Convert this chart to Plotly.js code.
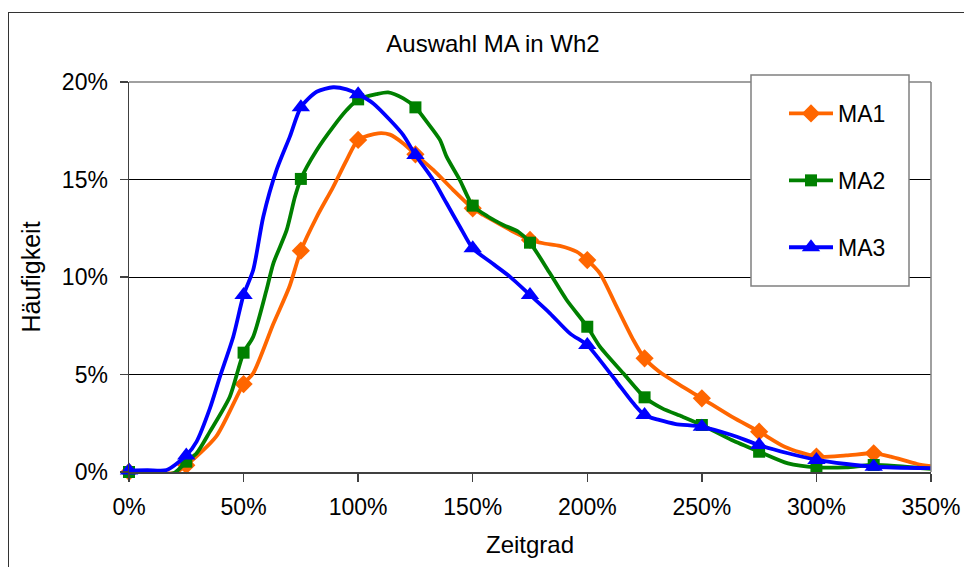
<!DOCTYPE html>
<html>
<head>
<meta charset="utf-8">
<script src="https://cdn.plot.ly/plotly-3.0.1.min.js"></script>
<style>
  html, body { margin: 0; padding: 0; background: #ffffff; }
  #wrap { position: relative; width: 964px; height: 567px; overflow: hidden; }
  #chart { position: absolute; left: 0; top: 0; width: 964px; height: 567px; }
  #frame { position: absolute; left: 8px; top: 12px; width: 1000px; height: 600px;
           border: 1px solid #333333; pointer-events: none; }
</style>
</head>
<body>
<div id="wrap">
  <div id="chart"></div>
  <div id="frame"></div>
</div>
<script>
// Data (x = Zeitgrad in %, y = Häufigkeit in %)
const seriesNames = ["MA1", "MA2", "MA3"];
const xTicks = [0, 50, 100, 150, 200, 250, 300, 350];
const yTicks = [0, 5, 10, 15, 20];

const xMA1 = [0, 8, 15, 20, 25, 38, 50, 54.2, 63, 70, 75, 82, 89, 95, 100, 108.8, 113.9, 119.7, 125, 132.8, 141.5, 150, 154.6, 161.9, 170.6, 175, 180.8, 188, 195.3, 200, 205.5, 212.8, 220.1, 225, 231.3, 241.5, 250, 263, 275, 286.1, 300, 313, 325, 332.4, 344, 352];
const yMA1 = [0, -0.05, -0.07, -0.05, 0.35, 1.81, 4.51, 5.06, 7.6, 9.5, 11.35, 13.1, 14.6, 16.0, 17.03, 17.37, 17.3, 16.85, 16.29, 15.49, 14.46, 13.52, 13.18, 12.7, 12.15, 11.9, 11.73, 11.6, 11.3, 10.87, 10.19, 8.48, 6.77, 5.83, 5.15, 4.38, 3.78, 2.84, 2.07, 1.3, 0.79, 0.85, 0.96, 0.79, 0.41, 0.27];

const xMA2 = [0, 8, 13.5, 20, 25, 29.5, 35.3, 44, 50, 54.2, 60, 63, 68.8, 72.4, 75, 81.9, 89.1, 95, 100, 108, 113.1, 119.7, 125, 129.9, 135.7, 138.6, 144.4, 150, 156.8, 163.3, 169.9, 175, 183.7, 191, 200, 205.5, 215.7, 225, 232.7, 241.5, 250, 263, 275, 287.6, 300, 313, 325, 352];
const yMA2 = [0, -0.08, -0.15, -0.03, 0.53, 0.96, 2.07, 3.86, 6.12, 6.94, 9.33, 10.7, 12.4, 14.1, 15.03, 16.5, 17.7, 18.56, 19.11, 19.38, 19.47, 19.16, 18.7, 17.97, 17.03, 16.17, 14.97, 13.66, 13.09, 12.67, 12.32, 11.76, 10.19, 8.82, 7.45, 6.43, 5.06, 3.83, 3.26, 2.84, 2.41, 1.64, 1.04, 0.44, 0.24, 0.24, 0.36, 0.14];

const xMA3 = [0, 8, 16.4, 25, 29.5, 35.3, 39.7, 45.5, 50, 54.2, 58.6, 64.4, 70.2, 75, 81.9, 89.1, 95, 100, 106.6, 113.9, 119.7, 125, 132.8, 138.6, 144.4, 150, 157.5, 166.2, 175, 183.7, 192.4, 200, 205.5, 212.8, 220.1, 225, 231.3, 238.6, 250, 263, 275, 287.6, 300, 313, 325, 352];
const yMA3 = [0.08, 0.1, 0.1, 0.85, 1.56, 3.26, 4.89, 6.94, 9.08, 10.36, 13.09, 15.49, 17.2, 18.7, 19.5, 19.73, 19.62, 19.37, 18.9, 18.05, 17.28, 16.26, 14.97, 13.78, 12.58, 11.47, 10.79, 10.02, 9.08, 8.14, 7.11, 6.51, 5.74, 4.63, 3.52, 2.92, 2.67, 2.46, 2.32, 1.9, 1.38, 0.96, 0.62, 0.41, 0.27, 0.19];

const colors = ["#FF6600", "#008000", "#0000FF"];
const symbols = ["diamond", "square", "triangle-up"];
const msizes = [14, 12, 16];

const xs = [xMA1, xMA2, xMA3];
const ys = [yMA1, yMA2, yMA3];

const FONT = "Liberation Sans, Arial, sans-serif";
const traces = [];
for (let i = 0; i < 3; i++) {
  const mx = [], my = [];
  xs[i].forEach((x, k) => { if (x % 25 === 0 && x <= 325) { mx.push(x); my.push(ys[i][k]); } });
  traces.push({
    x: xs[i], y: ys[i], type: "scatter", mode: "lines",
    line: { color: colors[i], width: 3.8, shape: "spline", smoothing: 0.7 },
    showlegend: false, legendgroup: "g" + i, hoverinfo: "skip"
  });
  traces.push({
    x: mx, y: my, type: "scatter", mode: "markers",
    marker: { color: colors[i], symbol: symbols[i], size: msizes[i], line: { width: 0 } },
    showlegend: false, legendgroup: "g" + i, cliponaxis: false
  });
}
// legend entries
for (let i = 0; i < 3; i++) {
  traces.push({
    x: [null], y: [null], type: "scatter", mode: "lines+markers", name: seriesNames[i],
    line: { color: colors[i], width: 3.8 },
    marker: { color: colors[i], symbol: symbols[i], size: msizes[i] },
    legendgroup: "g" + i, showlegend: true
  });
}

const L = 129, R = 931, T = 82, B = 472;
const W = 964, H = 567;
const px = v => (v - L) / (R - L);
const py = v => (B - v) / (B - T);

const layout = {
  width: W, height: H,
  margin: { l: L, r: W - R, t: T, b: H - B, pad: 0 },
  paper_bgcolor: "rgba(0,0,0,0)", plot_bgcolor: "#ffffff",
  font: { family: FONT, size: 23, color: "#000000" },
  title: { text: "Auswahl MA in Wh2", font: { family: FONT, size: 24, color: "#000000" },
           xref: "container", yref: "container", x: 493 / W, y: 1 - 44 / H,
           xanchor: "center", yanchor: "middle" },
  xaxis: {
    range: [0, 350], tickmode: "array", tickvals: xTicks, ticktext: xTicks.map(v => v + "%"),
    ticks: "outside", ticklen: 8, tickwidth: 1.5, tickcolor: "#404040",
    showline: true, linecolor: "#404040", linewidth: 1.5,
    showgrid: false, zeroline: false, ticklabelstandoff: 6,
    tickfont: { family: FONT, size: 23, color: "#000" },
    title: { text: "Zeitgrad", font: { family: FONT, size: 24, color: "#000" }, standoff: 17 }
  },
  yaxis: {
    range: [0, 20], tickmode: "array", tickvals: yTicks, ticktext: yTicks.map(v => v + "%"),
    ticks: "outside", ticklen: 8, tickwidth: 1.5, tickcolor: "#404040",
    showline: true, linecolor: "#404040", linewidth: 1.5,
    showgrid: true, gridcolor: "#000000", gridwidth: 1, zeroline: false,
    ticklabelstandoff: 7,
    tickfont: { family: FONT, size: 23, color: "#000" },
    title: { text: "Häufigkeit", font: { family: FONT, size: 25, color: "#000" }, standoff: 14 }
  },
  shapes: [
    { type: "line", xref: "paper", yref: "paper", x0: 0, x1: 1, y0: 1, y1: 1,
      line: { color: "#808080", width: 1.5 }, layer: "above" },
    { type: "line", xref: "paper", yref: "paper", x0: 1, x1: 1, y0: 0, y1: 1,
      line: { color: "#808080", width: 1.5 }, layer: "above" },
    { type: "rect", xref: "paper", yref: "paper",
      x0: px(751), x1: px(909), y0: py(286), y1: py(75),
      fillcolor: "#ffffff", line: { color: "#808080", width: 1.5 }, layer: "above" }
  ],
  legend: {
    x: px(784), y: py(92), xanchor: "left", yanchor: "top",
    bgcolor: "rgba(0,0,0,0)", borderwidth: 0,
    font: { family: FONT, size: 23, color: "#000" },
    traceorder: "grouped", tracegroupgap: 34, itemwidth: 44
  },
  showlegend: true
};

Plotly.newPlot("chart", traces, layout, { displayModeBar: false, staticPlot: true });
</script>
</body>
</html>
